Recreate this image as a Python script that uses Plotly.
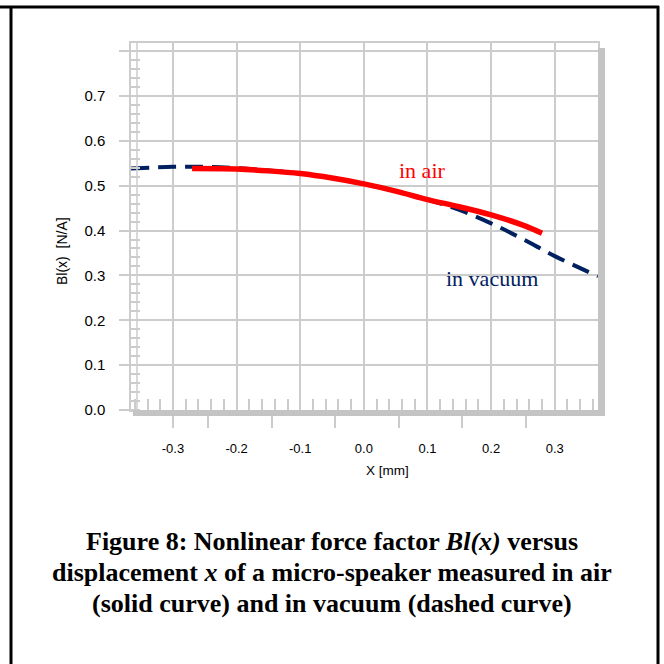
import plotly.graph_objects as go

# ---- data ----
x_air = [-0.27, -0.2, -0.15, -0.1, -0.05, 0.0, 0.05, 0.1, 0.15, 0.2, 0.25, 0.28]
bl_air = [0.538, 0.537, 0.533, 0.527, 0.517, 0.504, 0.488, 0.469, 0.453, 0.435, 0.412, 0.394]

x_vac = [-0.366, -0.3, -0.25, -0.2, -0.15, -0.1, -0.05, 0.0, 0.05, 0.1, 0.15, 0.2, 0.25, 0.3, 0.368]
bl_vac = [0.538, 0.542, 0.542, 0.539, 0.534, 0.527, 0.517, 0.504, 0.488, 0.469, 0.446, 0.416, 0.381, 0.343, 0.298]

y_ticks = [0.0, 0.1, 0.2, 0.3, 0.4, 0.5, 0.6, 0.7, 0.8]
y_ticktext = ["0.0", "0.1", "0.2", "0.3", "0.4", "0.5", "0.6", "0.7", ""]
x_ticks = [-0.3, -0.2, -0.1, 0.0, 0.1, 0.2, 0.3]
x_ticktext = ["-0.3", "-0.2", "-0.1", "0.0", "0.1", "0.2", "0.3"]
x_lower_ticks = [-0.3, -0.245, -0.145, -0.045, 0.055, 0.155, 0.255]

caption_lines = [
    "<b>Figure 8: Nonlinear force factor <i>Bl(x)</i> versus</b>",
    "<b>displacement <i>x</i> of a micro-speaker measured in air</b>",
    "<b>(solid curve) and in vacuum (dashed curve)</b>",
]

GRID = "#cccccc"
NAVY = "#002060"

# geometry of plot area in pixels
L, R, T, B = 131, 598, 43, 410
W, H = R - L, B - T
def px(xp):
    return (xp - L) / W
def py(yp):
    return (B - yp) / H

fig = go.Figure()
fig.add_trace(go.Scatter(x=x_vac, y=bl_vac, mode="lines", line=dict(color=NAVY, width=4, dash="18px,9px", shape="spline"),
                         showlegend=False))
fig.add_trace(go.Scatter(x=x_air, y=bl_air, mode="lines", line=dict(color="#ff0000", width=5.5, shape="spline"),
                         showlegend=False))
# invisible trace for the decorative lower tick axis
fig.add_trace(go.Scatter(x=[x_lower_ticks[0]], y=[0], xaxis="x2", mode="markers",
                         marker=dict(opacity=0), showlegend=False, hoverinfo="skip"))

xr = [-0.366, 0.368]
yr = [0.0, 0.818]

fig.update_layout(
    width=664, height=664,
    margin=dict(l=L, r=664 - R, t=T, b=664 - B),
    paper_bgcolor="white", plot_bgcolor="white",
    font=dict(family="Liberation Sans, Arial", color="black"),
    xaxis=dict(range=xr, tickvals=x_ticks, ticktext=x_ticktext, ticks="", ticklabelstandoff=26,
               tickfont=dict(size=13), showgrid=True, gridcolor=GRID, gridwidth=1.5,
               zeroline=False, showline=True, linecolor=GRID, linewidth=1.5, mirror=True,
               minor=dict(ticks="inside", dtick=0.02, tick0=0, ticklen=11, tickcolor=GRID,
                          tickwidth=1.5, showgrid=False)),
    xaxis2=dict(range=xr, overlaying="x", anchor="y", side="bottom", tickvals=x_lower_ticks,
                showticklabels=False, ticks="outside", ticklen=17, tickcolor=GRID, tickwidth=1.5,
                showgrid=False, zeroline=False, showline=False),
    yaxis=dict(range=yr, tickvals=y_ticks, ticktext=y_ticktext, ticks="outside", ticklen=10,
               tickcolor=GRID, tickwidth=1.5, ticklabelstandoff=11, tickfont=dict(size=15),
               showgrid=True, gridcolor=GRID, gridwidth=1.5, zeroline=False,
               showline=True, linecolor=GRID, linewidth=1.5, mirror=True,
               minor=dict(ticks="inside", dtick=0.02, tick0=0, ticklen=9, tickcolor=GRID,
                          tickwidth=1.5, showgrid=False)),
)

shapes = [
    # inner left line
    dict(type="line", xref="paper", yref="paper", x0=px(137), x1=px(137), y0=0, y1=1,
         line=dict(color=GRID, width=1.5)),
    # gray shadow right
    dict(type="rect", xref="paper", yref="paper", x0=px(598), x1=px(605), y0=py(416), y1=py(48),
         fillcolor="#c4c4c4", line=dict(width=0)),
    # gray shadow bottom
    dict(type="rect", xref="paper", yref="paper", x0=px(133), x1=px(605), y0=py(416), y1=py(410),
         fillcolor="#c4c4c4", line=dict(width=0)),
    # document border
    dict(type="line", xref="paper", yref="paper", x0=px(0), x1=px(659), y0=py(7), y1=py(7),
         line=dict(color="black", width=3)),
    dict(type="line", xref="paper", yref="paper", x0=px(11), x1=px(11), y0=py(6), y1=py(680),
         line=dict(color="black", width=3)),
    dict(type="line", xref="paper", yref="paper", x0=px(658), x1=px(658), y0=py(6), y1=py(680),
         line=dict(color="black", width=3)),
]
fig.update_layout(shapes=shapes)

ann = [
    dict(x=0.091, y=0.533, xref="x", yref="y", text="in air", showarrow=False,
         xanchor="center", yanchor="middle",
         font=dict(family="Liberation Serif, Times New Roman", size=22, color="#ff0000")),
    dict(x=0.201, y=0.292, xref="x", yref="y", text="in vacuum", showarrow=False,
         xanchor="center", yanchor="middle",
         font=dict(family="Liberation Serif, Times New Roman", size=22, color=NAVY)),
    dict(x=px(62), y=py(251), xref="paper", yref="paper", text="Bl(x)\u00a0\u00a0[N/A]",
         xanchor="center", yanchor="middle",
         textangle=-90, showarrow=False, font=dict(size=14)),
    dict(x=px(387), y=py(471), xref="paper", yref="paper", text="X [mm]", showarrow=False,
         xanchor="center", yanchor="middle", font=dict(size=13.5)),
]
for i, line in enumerate(caption_lines):
    ann.append(dict(x=px(332), y=py(541 + 31 * i), xref="paper", yref="paper", text=line,
                    showarrow=False, xanchor="center", yanchor="middle",
                    font=dict(family="Liberation Serif, Times New Roman", size=26, color="black")))
fig.update_layout(annotations=ann)

fig.write_html("out.html")
